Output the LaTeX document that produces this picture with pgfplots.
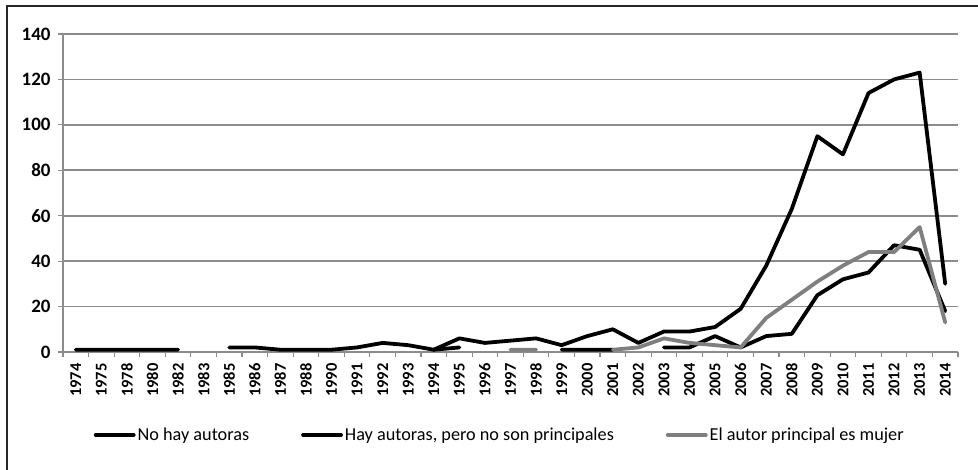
\documentclass[border=0pt]{standalone}
\usepackage{pgfplots}
\pgfplotsset{compat=1.18}
\usepackage{fontspec}
\setmainfont{Carlito}
\definecolor{gridgray}{HTML}{8C8C8C}
\definecolor{sergray}{HTML}{7F7F7F}
\begin{document}
\begin{tikzpicture}[x=1bp,y=1bp]
\path[use as bounding box] (0,0) rectangle (978,470);
\draw[line width=1.3bp, black!85] (7,0) -- (7,464) -- (978,464);
\begin{axis}[
  at={(63bp,118bp)}, anchor=south west,
  width=895bp, height=318bp, scale only axis,
  xmin=-0.5, xmax=34.5, ymin=0, ymax=140,
  xtick={0,...,34},
  xticklabels={1974,1975,1978,1980,1982,1983,1985,1986,1987,1988,1990,1991,1992,1993,1994,1995,1996,1997,1998,1999,2000,2001,2002,2003,2004,2005,2006,2007,2008,2009,2010,2011,2012,2013,2014},
  major x tick style={draw=none},
  minor xtick={-0.5,0.5,...,34.5},
  minor x tick style={gridgray, line width=1.2bp},
  ytick={0,20,...,140},
  ymajorgrids,
  grid style={gridgray, line width=1.6bp},
  axis x line*=bottom, axis y line*=left,
  axis line style={gridgray, line width=1.3bp},
  tick align=outside,
  major tick length=5bp, minor tick length=5bp,
  major y tick style={gridgray, line width=1.2bp},
  /pgf/number format/assume math mode=true,
  xticklabel style={rotate=90, anchor=east, font=\bfseries\fontsize{16.5}{16.5}\selectfont, xshift=-3bp},
  yticklabel style={font=\bfseries\fontsize{19}{19}\selectfont, xshift=-4bp},
  unbounded coords=jump,
  legend columns=3,
  legend style={at={(axis description cs:0.488,-0.261)}, anchor=center, draw=none,
    font=\fontsize{18.3}{20}\selectfont,
    /tikz/every even column/.append style={column sep=50bp}},
  legend image code/.code={\draw[#1] (0bp,0bp) -- (38bp,0bp);},
  every axis plot/.append style={line width=3.8bp, line join=round, line cap=round},
]
\addplot[black] table[x=x,y=y] {
x y
0 1
1 1
2 1
3 1
4 1
5 nan
6 2
7 2
8 1
9 1
10 1
11 2
12 4
13 3
14 1
15 6
16 4
17 5
18 6
19 3
20 7
21 10
22 4
23 9
24 9
25 11
26 19
27 38
28 63
29 95
30 87
31 114
32 120
33 123
34 30
};
\addlegendentry{No hay autoras}
\addplot[black] table[x=x,y=y] {
x y
14 1
15 2
16 nan
19 1
20 1
21 1
22 nan
23 2
24 2
25 7
26 2
27 7
28 8
29 25
30 32
31 35
32 47
33 45
34 18
};
\addlegendentry{Hay autoras, pero no son principales}
\addplot[sergray] table[x=x,y=y] {
x y
17 1
18 1
19 nan
21 1
22 2
23 6
24 4
25 3
26 2
27 15
28 23
29 31
30 38
31 44
32 44
33 55
34 13
};
\addlegendentry{El autor principal es mujer}
\end{axis}
\end{tikzpicture}
\end{document}
